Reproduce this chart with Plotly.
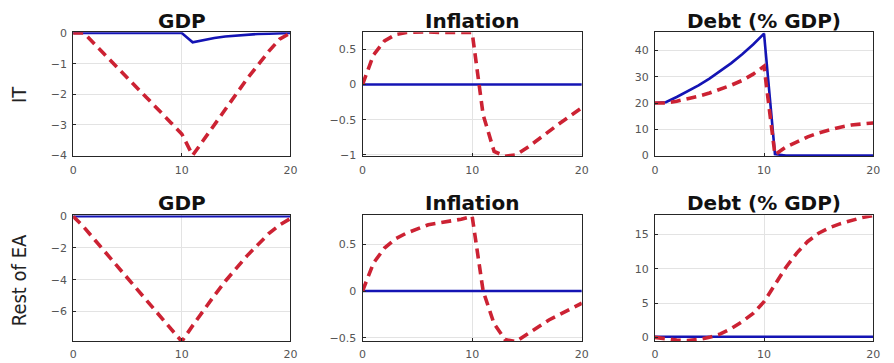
import plotly.graph_objects as go

quarters = list(range(21))

# Row 1: IT
it_gdp_blue = [0]*11 + [-0.30, -0.22, -0.16, -0.11, -0.08, -0.05, -0.03, -0.02, -0.01, 0.0]
it_gdp_red = [0.0, 0.0, -0.37, -0.73, -1.1, -1.47, -1.83, -2.2, -2.57, -2.93, -3.3,
              -4.0, -3.5, -3.0, -2.5, -2.0, -1.5, -1.05, -0.6, -0.2, 0.0]
it_inf_blue = [0.0]*21
it_inf_red = [0.0, 0.42, 0.62, 0.71, 0.74, 0.75, 0.75, 0.74, 0.74, 0.74, 0.74,
              -0.43, -0.95, -1.02, -1.0, -0.9, -0.78, -0.67, -0.55, -0.44, -0.33]
it_debt_blue = [20.0, 20.3, 22.3, 24.4, 26.7, 29.3, 32.1, 35.2, 38.6, 42.3, 46.4,
                0.5, 0.0, 0.0, 0.0, 0.0, 0.0, 0.0, 0.0, 0.0, 0.0]
it_debt_red = [20.0, 20.0, 20.7, 21.5, 22.6, 23.8, 25.2, 26.8, 28.6, 31.0, 34.0,
               0.3, 3.2, 5.3, 7.1, 8.6, 9.8, 10.8, 11.6, 12.1, 12.4]

# Row 2: Rest of EA
ea_gdp_blue = [0.0]*21
ea_gdp_red = [0.0, -0.7, -1.5, -2.3, -3.1, -3.9, -4.7, -5.5, -6.3, -7.1, -7.9,
              -6.9, -5.9, -5.0, -4.1, -3.3, -2.5, -1.8, -1.1, -0.55, -0.15]
ea_inf_blue = [0.0]*21
ea_inf_red = [0.0, 0.3, 0.46, 0.56, 0.62, 0.67, 0.71, 0.73, 0.75, 0.77, 0.8,
              0.0, -0.35, -0.52, -0.54, -0.46, -0.38, -0.31, -0.25, -0.19, -0.13]
ea_debt_blue = [0.1]*21
ea_debt_red = [0.0, -0.2, -0.4, -0.45, -0.3, 0.0, 0.5, 1.3, 2.3, 3.5, 5.2,
               7.7, 10.2, 12.3, 14.0, 15.2, 16.0, 16.6, 17.1, 17.5, 17.8]

titles = ["GDP", "Inflation", "Debt (% GDP)"]
row_labels = ["IT", "Rest of EA"]
x_ticks = [0, 10, 20]

panels = [
    (it_gdp_blue, it_gdp_red, [-4.03, 0.03], 1),
    (it_inf_blue, it_inf_red, [-1.02, 0.745], 0.5),
    (it_debt_blue, it_debt_red, [-0.3, 47.0], 10),
    (ea_gdp_blue, ea_gdp_red, [-7.9, 0.05], 2),
    (ea_inf_blue, ea_inf_red, [-0.54, 0.81], 0.5),
    (ea_debt_blue, ea_debt_red, [-0.6, 17.8], 5),
]

W, H = 894, 363
col_px = [(70, 290), (363, 585), (659, 880)]
row_px = [(28, 156), (217, 347)]
x_standoff = [4, 2]

BLUE = "#1414b4"
RED = "#cc2233"
FRAME = "#262626"
GRID = "#e3e3e3"
TICKF = dict(family="DejaVu Sans, Liberation Sans, sans-serif", size=11, color="#555555")

fig = go.Figure()
layout = {}
for i, (blue, red, yr, dt) in enumerate(panels):
    r, c = divmod(i, 3)
    n = i + 1
    xa = "x" if n == 1 else f"x{n}"
    ya = "y" if n == 1 else f"y{n}"
    fig.add_trace(go.Scatter(x=quarters, y=blue, mode="lines", xaxis=xa, yaxis=ya,
                             line=dict(color=BLUE, width=2.6), showlegend=False))
    fig.add_trace(go.Scatter(x=quarters, y=red, mode="lines", xaxis=xa, yaxis=ya,
                             line=dict(color=RED, width=3.6, dash="10px,6px"), showlegend=False))
    x0, x1 = col_px[c]
    y0, y1 = row_px[r]
    common = dict(showline=True, mirror=True, linecolor=FRAME, linewidth=1,
                  showgrid=True, gridcolor=GRID, gridwidth=1, zeroline=False,
                  ticks="inside", ticklen=3, tickcolor=FRAME, tickfont=TICKF)
    layout["xaxis" if n == 1 else f"xaxis{n}"] = dict(
        domain=[x0 / W, x1 / W], range=[0, 20], tickvals=x_ticks,
        anchor=ya, ticklabelstandoff=x_standoff[r], **common)
    layout["yaxis" if n == 1 else f"yaxis{n}"] = dict(
        domain=[1 - y1 / H, 1 - y0 / H], range=yr, dtick=dt, tick0=0,
        anchor=xa, ticklabelstandoff=3, **common)

annotations = []
title_y = [16, 204]
for r in range(2):
    for c in range(3):
        x0, x1 = col_px[c]
        annotations.append(dict(
            text=titles[c], x=(x0 + x1) / 2 / W, y=1 - title_y[r] / H,
            xref="paper", yref="paper", xanchor="center", yanchor="middle",
            showarrow=False,
            font=dict(family="DejaVu Sans, sans-serif", size=20, color="#111111",
                      weight="bold")))
label_pos = [(15, 92), (16, 284)]
for (lx, ly), lab in zip(label_pos, row_labels):
    annotations.append(dict(
        text=lab, x=lx / W, y=1 - ly / H, xref="paper", yref="paper",
        xanchor="center", yanchor="middle", showarrow=False, textangle=-90,
        font=dict(family="Liberation Sans Narrow, DejaVu Sans Condensed, Roboto Condensed, sans-serif",
                  size=20, color="#222222")))

fig.update_layout(width=W, height=H, margin=dict(l=0, r=0, t=0, b=0),
                  plot_bgcolor="white", paper_bgcolor="white",
                  annotations=annotations, **layout)

fig.write_html("out.html", config={"displayModeBar": False},
               post_script="document.body.style.margin='0';document.body.style.overflow='hidden';")
